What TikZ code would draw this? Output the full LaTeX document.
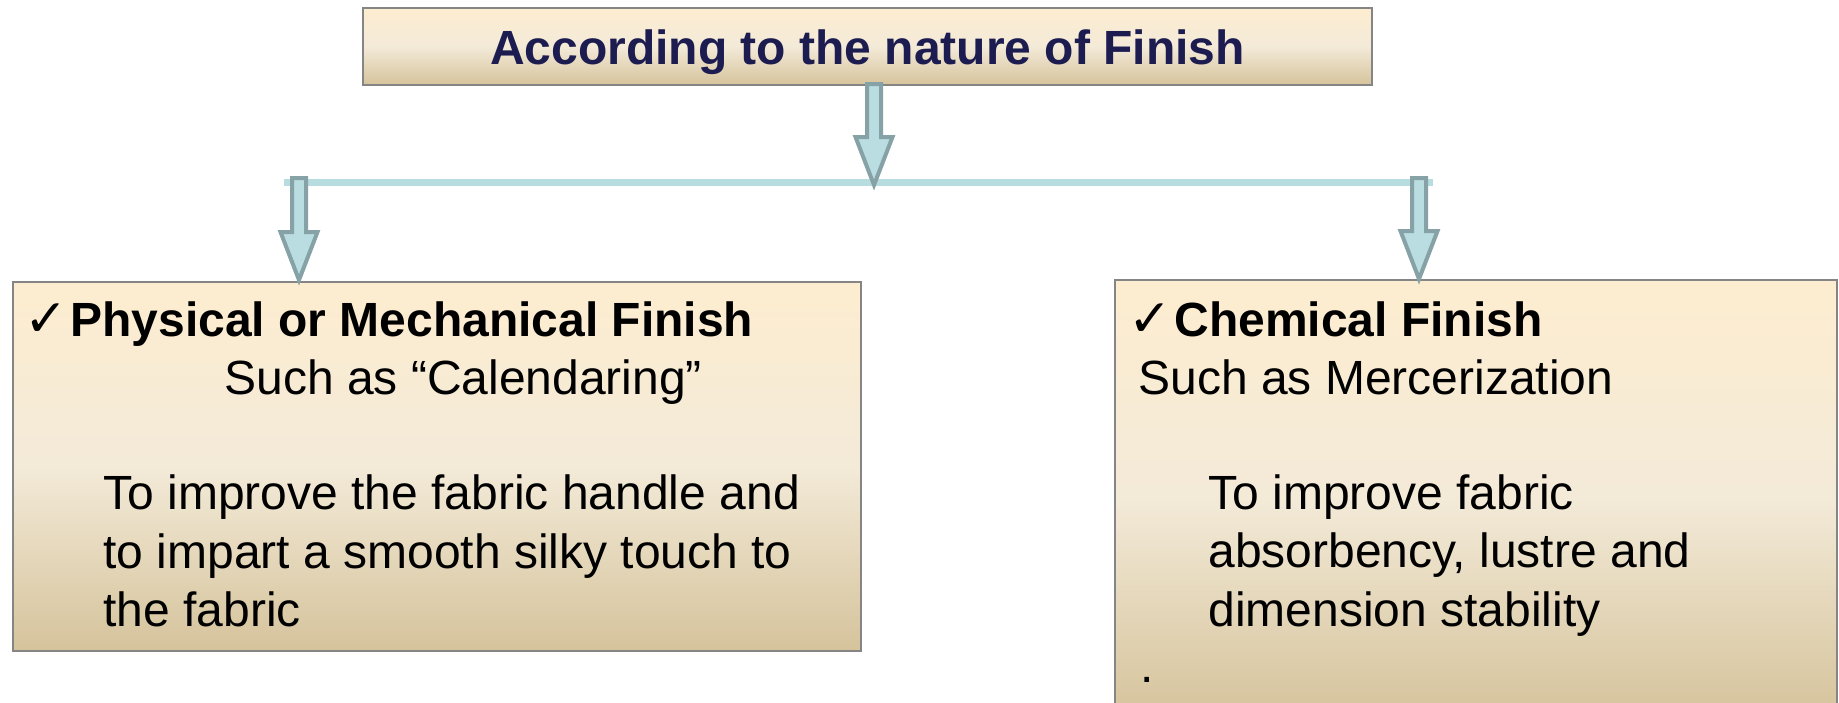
\documentclass[tikz,border=0pt]{standalone}
\usepackage{fontspec}
\setmainfont{Liberation Sans}
\newfontfamily\checkfont{DejaVu Sans}
\usetikzlibrary{calc}

\definecolor{boxtop}{HTML}{FDEDD0}
\definecolor{boxmid}{HTML}{F3EAD8}
\definecolor{boxbot}{HTML}{D5C39B}
\definecolor{boxline}{HTML}{858585}
\definecolor{titleblue}{HTML}{1C1C50}
\definecolor{arrowfill}{HTML}{B9DDE1}
\definecolor{arrowline}{HTML}{87A2A6}
\definecolor{barblue}{HTML}{B7DDE0}

\newcommand\blockarrow[2]{%
  \draw[blockarr] let \p1=(#1), \p2=(#2) in
    (\x1-3.5pt,\y1) -- (\x1-3.5pt,\y2+24pt) -- (\x1-9.25pt,\y2+24pt) -- (\x1,\y2)
    -- (\x1+9.25pt,\y2+24pt) -- (\x1+3.5pt,\y2+24pt) -- (\x1+3.5pt,\y1) -- cycle;}

\newcommand\tick{\llap{\checkfont\fontsize{26}{30}\selectfont ✓\kern1pt}}

\begin{document}
\begin{tikzpicture}[x=0.5pt,y=-0.5pt,
    finbox/.style={draw=boxline, line width=1pt, top color=boxtop, bottom color=boxbot,
      middle color=boxmid, inner sep=0pt, anchor=north west},
    blockarr/.style={fill=arrowfill, draw=arrowline, line width=2pt, line join=miter},
    txt/.style={anchor=base west, inner sep=0pt, font=\fontsize{24}{29}\selectfont},
    head/.style={txt, font=\fontsize{24}{29}\selectfont\bfseries}]
  \useasboundingbox (0,0) rectangle (1839,702);
  \clip (0,0) rectangle (1839,702);

  \node[finbox, minimum width=504.5pt, minimum height=38.5pt, text height=17.5pt, text depth=0pt,
    font=\fontsize{24}{29}\selectfont\bfseries, text=titleblue] (top) at (362,7)
    {According to the nature of Finish};
  \node[finbox, minimum width=424pt, minimum height=184.5pt] (phys) at (12,281) {};
  \node[finbox, minimum width=361pt, minimum height=218pt] (chem) at (1114,279) {};

  \coordinate (topfoot) at (874,84);
  \coordinate (barmid) at (874,185);
  \coordinate (barL) at (284,182);
  \coordinate (barR) at (1433,182);
  \coordinate (leftfork) at (299,178);
  \coordinate (leftend) at (299,280);
  \coordinate (rightfork) at (1419,178);
  \coordinate (rightend) at (1419,279);

  \draw[barblue, line width=3.5pt] (barL) -- (barR);
  \blockarrow{topfoot}{barmid}
  \blockarrow{leftfork}{leftend}
  \blockarrow{rightfork}{rightend}

  \node[head] (physhead) at (70,336) {\tick Physical or Mechanical Finish};
  \node[txt] (physex) at (224,394) {Such as “Calendaring”};
  \node[txt] (physa) at (103,509) {To improve the fabric handle and};
  \node[txt] (physb) at (103,568) {to impart a smooth silky touch to};
  \node[txt] (physc) at (103,626) {the fabric};

  \node[head] (chemhead) at (1174,336) {\tick Chemical Finish};
  \node[txt] (chemex) at (1138,394) {Such as Mercerization};
  \node[txt] (chema) at (1208,509) {To improve fabric};
  \node[txt] (chemb) at (1208,567) {absorbency, lustre and};
  \node[txt] (chemc) at (1208,626) {dimension stability};
  \node[txt] (chemdot) at (1140,682) {.};
\end{tikzpicture}
\end{document}
